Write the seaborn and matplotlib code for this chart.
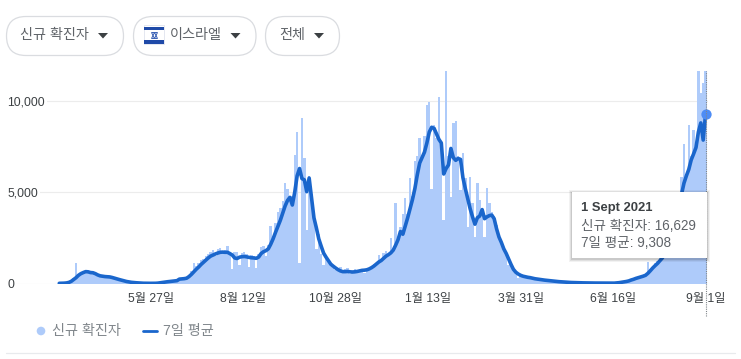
import pandas as pd
import matplotlib
matplotlib.use("Agg")
import matplotlib.pyplot as plt
from matplotlib.patches import FancyBboxPatch, Rectangle, Polygon, Circle
import seaborn as sns

# === Data (one value every 2 days) ===
start_date = "2020-03-12"
new_cases = [
    10, 15, 20, 40, 80, 150, 300, 1120, 500, 520,
    620, 700, 650, 620, 600, 520, 450, 420, 410, 400,
    390, 370, 320, 280, 250, 210, 170, 130, 100, 80,
    60, 45, 40, 30, 20, 15, 12, 10, 10, 10,
    15, 25, 50, 70, 90, 100, 120, 130, 140, 160,
    240, 260, 290, 330, 450, 700, 1150, 950, 1150, 1300,
    1350, 1500, 1600, 1750, 1850, 1500, 1900, 1950, 1700, 1850,
    2050, 1750, 800, 1700, 1700, 1000, 1650, 1700, 1600, 900,
    1550, 1500, 850, 1600, 2000, 2050, 1500, 2100, 3150, 2500,
    3300, 3900, 4130, 4500, 5500, 5200, 4600, 4800, 7040, 8320,
    1100, 9070, 6900, 2930, 5900, 4900, 3700, 1900, 2700, 1600,
    1000, 1450, 1250, 1000, 850, 750, 800, 900, 550, 800,
    850, 500, 700, 800, 550, 750, 780, 600, 850, 800,
    900, 1050, 1000, 1560, 1250, 1650, 1800, 1500, 2480, 1800,
    4400, 2400, 3100, 3800, 4680, 3800, 5760, 4800, 6700, 7000,
    7970, 7000, 8090, 9780, 9960, 5200, 8700, 8000, 10200, 7800,
    3480, 11700, 7000, 4750, 8800, 8900, 7000, 5100, 7140, 5800,
    3080, 5830, 4400, 2550, 5500, 4580, 4000, 2550, 5220, 4400,
    3900, 3700, 3200, 2700, 2300, 1900, 1650, 1000, 1000, 800,
    500, 300, 450, 300, 350, 280, 300, 250, 280, 250,
    300, 200, 220, 130, 160, 120, 150, 100, 110, 90,
    100, 70, 60, 70, 50, 60, 40, 50, 35, 40,
    35, 30, 35, 25, 30, 20, 25, 20, 25, 20,
    25, 20, 40, 50, 70, 90, 120, 150, 200, 240,
    300, 350, 400, 420, 500, 1190, 800, 950, 1100, 1250,
    1400, 1600, 1900, 2200, 2600, 3000, 3500, 4000, 4800, 5850,
    7650, 6000, 8680, 7000, 8410, 7500, 11800, 10430, 10990, 16629,
]
avg_7d = [
    10, 12, 18, 30, 60, 120, 220, 320, 450, 540,
    600, 650, 640, 600, 590, 540, 470, 420, 400, 380,
    370, 360, 330, 290, 250, 215, 180, 140, 110, 85,
    65, 50, 40, 30, 22, 15, 12, 10, 10, 10,
    12, 20, 40, 60, 80, 95, 110, 125, 140, 155,
    240, 250, 265, 290, 380, 500, 640, 780, 900, 1040,
    1160, 1280, 1400, 1500, 1560, 1620, 1670, 1710, 1720, 1710,
    1710, 1640, 1560, 1400, 1370, 1440, 1470, 1480, 1460, 1430,
    1410, 1400, 1380, 1450, 1640, 1740, 1800, 1900, 2150, 2450,
    2800, 3130, 3460, 3850, 4250, 4550, 4720, 4300, 5000, 5900,
    6300, 5750, 5680, 5030, 5780, 4700, 3600, 3050, 2450, 2050,
    1670, 1450, 1250, 1060, 950, 850, 760, 690, 650, 650,
    660, 640, 630, 640, 660, 690, 720, 730, 750, 800,
    870, 960, 1070, 1180, 1260, 1380, 1500, 1580, 1680, 1830,
    2100, 2400, 2850, 2700, 3150, 3600, 4100, 4600, 5200, 5950,
    6600, 6900, 7200, 7700, 8300, 8560, 8500, 8200, 7900, 7700,
    6000, 6300, 6500, 7400, 6900, 6750, 6850, 6800, 5800, 5200,
    4650, 4100, 3650, 3250, 3600, 3700, 4050, 3550, 3650, 3720,
    3750, 3550, 3000, 2550, 2250, 1900, 1650, 1350, 1050, 780,
    620, 520, 450, 400, 370, 340, 320, 290, 260, 240,
    220, 200, 185, 170, 150, 135, 125, 110, 100, 90,
    80, 70, 60, 55, 50, 45, 40, 38, 35, 32,
    30, 28, 26, 25, 24, 22, 22, 20, 20, 20,
    20, 20, 30, 45, 65, 85, 110, 140, 190, 230,
    280, 320, 360, 400, 450, 560, 700, 850, 980, 1100,
    1250, 1400, 1650, 1950, 2300, 2700, 3100, 3600, 4200, 4900,
    5500, 5900, 6250, 6770, 7100, 7450, 8300, 8800, 7860, 9308,
]
tick_dates = ["2020-05-27", "2020-08-12", "2020-10-28", "2021-01-13", "2021-03-31", "2021-06-16", "2021-09-01"]
tick_labels = ["5월 27일", "8월 12일", "10월 28일", "1월 13일", "3월 31일", "6월 16일", "9월 1일"]
y_ticks = [0, 5000, 10000]
y_labels = ["0", "5,000", "10,000"]

dates = pd.date_range(start_date, periods=len(new_cases), freq="2D")
df = pd.DataFrame({
    "day": (dates - dates[0]).days,
    "cases": new_cases,
    "avg": avg_7d,
})
tick_days = [(pd.Timestamp(d) - dates[0]).days for d in tick_dates]

# === Style ===
BAR = "#aecbfa"
LINE = "#1a66cc"
DOT = "#4d8cf5"
TEXT = "#5f6368"
DARK = "#3c4043"
W, H = 741, 359

sns.set_theme(style="white")
plt.rcParams["font.family"] = ["Liberation Sans", "Noto Sans CJK KR"]

fig = plt.figure(figsize=(W / 100, H / 100), dpi=100, facecolor="white")
ax = fig.add_axes([7 / W, 1 - 283.5 / H, 701 / W, 212.5 / H])

# === Chart ===
sns.barplot(data=df, x="day", y="cases", native_scale=True, width=1.0, color=BAR,
            saturation=1, errorbar=None, linewidth=0, ax=ax, zorder=2)
sns.lineplot(data=df, x="day", y="avg", color=LINE, linewidth=2.6, errorbar=None, ax=ax, zorder=3)
sns.scatterplot(data=df.tail(1), x="day", y="avg", color=DOT, s=55, linewidth=0, ax=ax, zorder=4, clip_on=False)

ax.set_xlim(-43.5, 540)
ax.set_ylim(0, 11644)
ax.set_xlabel("")
ax.set_ylabel("")
ax.set_xticks(tick_days, tick_labels)
ax.set_yticks(y_ticks, y_labels)
ax.grid(axis="y", color="#ececec", linewidth=0.8)
ax.set_axisbelow(True)
sns.despine(ax=ax, left=True, bottom=True)
ax.tick_params(axis="x", length=3, width=0.7, color="#dadce0", pad=3.5, labelsize=8.8, labelcolor=DARK)
ax.tick_params(axis="y", length=0, pad=0, labelsize=8.8, labelcolor=DARK)
for lab in ax.get_yticklabels():
    lab.set_ha("left")
    lab.set_bbox(dict(facecolor="white", edgecolor="none", pad=1.5))
    lab.set_zorder(1)
# y labels sit inside the axes, over the grid
ax.yaxis.set_tick_params(direction="in")
for lab in ax.get_yticklabels():
    lab.set_x(0)

# hover guide at the last day
ax.plot([df["day"].iloc[-1] + 0.5] * 2, [-1800, 11644], color="#80868b", linewidth=0.8,
        linestyle=(0, (1, 1)), clip_on=False, zorder=5)

# === Page furniture, in pixels ===
ui = fig.add_axes([0, 0, 1, 1], facecolor="none")
ui.set_xlim(0, W)
ui.set_ylim(H, 0)
ui.axis("off")

def pill(x0, x1, y0=16.5, y1=55.5):
    r = (y1 - y0) / 2
    ui.add_patch(FancyBboxPatch((x0 + r, y0 + r), x1 - x0 - 2 * r, 0,
                                boxstyle=f"round,pad={r},rounding_size={r}",
                                facecolor="white", edgecolor="#dadce0", linewidth=0.9))

def caret(cx):
    ui.add_patch(Polygon([(cx - 5, 33), (cx + 5, 33), (cx, 38.5)], closed=True, facecolor=DARK, edgecolor="none"))

pill(6.5, 123.5)
pill(133.5, 256)
pill(265.5, 339.5)
caret(103)
caret(235.5)
caret(319)
ui.text(20.5, 35, "신규 확진자", fontsize=10.2, color=TEXT, va="center")
ui.text(169.5, 35, "이스라엘", fontsize=10.2, color=TEXT, va="center")
ui.text(279, 35, "전체", fontsize=10.2, color=TEXT, va="center")

# flag
ui.add_patch(Rectangle((144, 25), 20, 19, facecolor="white", edgecolor="#dfe3ee", linewidth=0.6))
ui.add_patch(Rectangle((144, 26.5), 20, 3.5, facecolor="#1f4aa8", edgecolor="none"))
ui.add_patch(Rectangle((144, 40), 20, 4, facecolor="#1f4aa8", edgecolor="none"))
ui.plot([154], [35], marker="^", ms=4.5, mfc="none", mec="#3b62b5", mew=0.7)
ui.plot([154], [35], marker="v", ms=4.5, mfc="none", mec="#3b62b5", mew=0.7)

# tooltip
for off, alpha in [(3, 0.05), (2, 0.07), (1, 0.10)]:
    ui.add_patch(Rectangle((572 - off, 192 - off + 1), 135 + 2 * off, 66 + 2 * off,
                           facecolor="black", edgecolor="none", alpha=alpha, zorder=6))
ui.add_patch(Rectangle((572, 192), 135, 66, facecolor="white", edgecolor="none", zorder=7))
ui.text(581, 208, "1 Sept 2021", fontsize=9.4, fontweight="bold", color=DARK, va="center", zorder=8)
ui.text(581, 226, "신규 확진자: 16,629", fontsize=9.75, color=TEXT, va="center", zorder=8)
ui.text(581, 243, "7일 평균: 9,308", fontsize=9.75, color=TEXT, va="center", zorder=8)

# legend
ui.add_patch(Circle((41, 331), 4.3, facecolor=BAR, edgecolor="none"))
ui.text(52, 331, "신규 확진자", fontsize=10.2, color="#80868b", va="center")
ui.plot([143, 157], [331, 331], color=LINE, linewidth=2)
ui.text(163, 331, "7일 평균", fontsize=10.2, color="#80868b", va="center")
ui.plot([6, 735], [353, 353], color="#e8eaed", linewidth=0.9)

fig.savefig("out.png", dpi=100)
plt.close(fig)
